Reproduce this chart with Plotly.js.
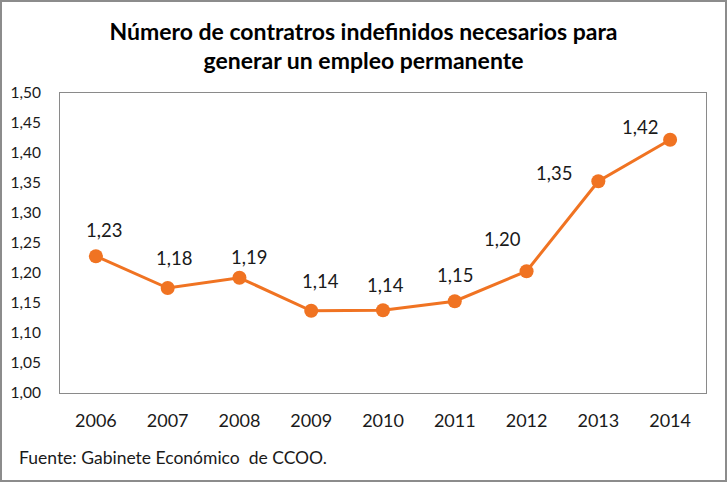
<!DOCTYPE html>
<html><head><meta charset="utf-8">
<script src="https://cdn.plot.ly/plotly-3.0.1.min.js"></script>
<style>
html,body{margin:0;padding:0;background:#fff;}
#wrap{position:relative;width:727px;height:482px;}
#chart{width:727px;height:482px;}
#frame{position:absolute;left:0;top:0;width:727px;height:482px;box-sizing:border-box;border:2px solid #8c8c8c;pointer-events:none;}
</style></head>
<body>
<div id="wrap"><div id="chart"></div><div id="frame"></div></div>
<script>
const years = ['2006','2007','2008','2009','2010','2011','2012','2013','2014'];
const ratios = [1.228, 1.175, 1.192, 1.137, 1.138, 1.153, 1.203, 1.353, 1.422];
const labels = ['1,23','1,18','1,19','1,14','1,14','1,15','1,20','1,35','1,42'];
const yTicks = [1.00,1.05,1.10,1.15,1.20,1.25,1.30,1.35,1.40,1.45,1.50];
const titleText = '<b>Número de contratros indefinidos necesarios para<br>generar un empleo permanente</b>';
const sourceText = 'Fuente: Gabinete Económico  de CCOO.';

// label offsets (pixels) relative to each point
const labelDx = [8, 6, 10, 9, 2, 0, -24, -44, -30];
const labelDy = [26, 30, 21, 30, 25, 26, 32, 8, 13];

const orange = '#F07322';
const font = 'Lato, "Open Sans", sans-serif';

const annotations = years.map((yr, i) => ({
  x: i, y: ratios[i], xref: 'x', yref: 'y', text: labels[i], showarrow: false,
  xshift: labelDx[i], yshift: labelDy[i],
  font: {family: font, size: 18.5, color: '#1a1a1a'}
}));
annotations.push({
  xref: 'paper', yref: 'paper', x: -0.066, y: -0.215, xanchor: 'left', yanchor: 'middle',
  text: sourceText, showarrow: false, font: {family: font, size: 17.5, color: '#1a1a1a'}
});

Plotly.newPlot('chart', [{
  x: years, y: ratios, type: 'scatter', mode: 'lines+markers',
  line: {color: orange, width: 3},
  marker: {color: orange, size: 14},
  hoverinfo: 'skip'
}], {
  width: 727, height: 482,
  margin: {l: 60, r: 21, t: 93, b: 89},
  paper_bgcolor: '#fff', plot_bgcolor: '#fff',
  separators: ',.',
  showlegend: false,
  title: {text: titleText, x: 0.5, xanchor: 'center', y: 0.918, yanchor: 'middle',
          font: {family: font, size: 23, color: '#000'}},
  xaxis: {type: 'category', range: [-0.5, 8.5], showgrid: false, zeroline: false,
          showline: true, mirror: true, linecolor: '#8a8a8a', linewidth: 1,
          ticks: '', ticklabelstandoff: 11,
          tickfont: {family: font, size: 18, color: '#1a1a1a'}},
  yaxis: {range: [1.0, 1.5], tickvals: yTicks, tickformat: '.2f', showgrid: false, zeroline: false,
          showline: true, mirror: true, linecolor: '#8a8a8a', linewidth: 1,
          ticks: '', ticklabelstandoff: 15,
          tickfont: {family: font, size: 15.5, color: '#1a1a1a'}},
  annotations: annotations
}, {staticPlot: true});
</script>
</body></html>
